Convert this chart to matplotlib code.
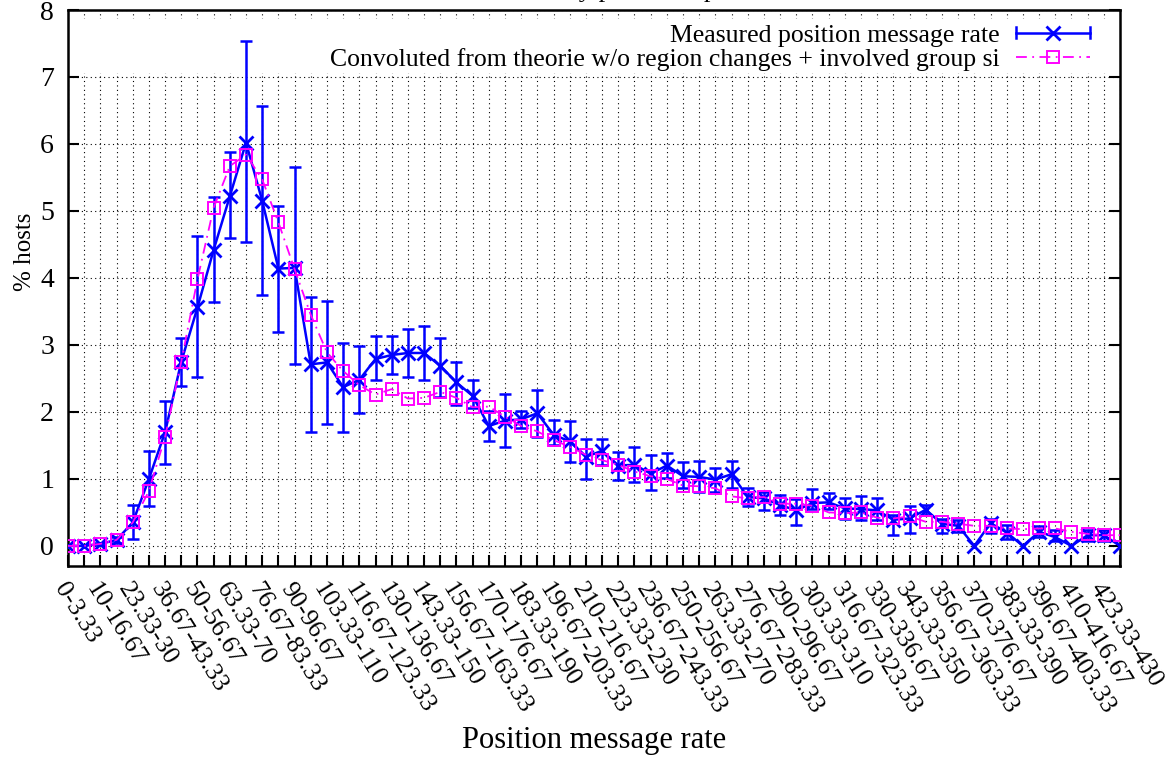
import matplotlib
matplotlib.use("Agg")
import matplotlib.pyplot as plt
from matplotlib.lines import Line2D
from matplotlib.legend_handler import HandlerBase
import numpy as np

plt.rcParams['font.family'] = ['Liberation Serif', 'DejaVu Serif']

# message rate bins (6.67 wide), every second one gets a label
tick_labels = ['0-3.33', '10-16.67', '23.33-30', '36.67-43.33', '50-56.67',
               '63.33-70', '76.67-83.33', '90-96.67', '103.33-110', '116.67-123.33',
               '130-136.67', '143.33-150', '156.67-163.33', '170-176.67', '183.33-190',
               '196.67-203.33', '210-216.67', '223.33-230', '236.67-243.33', '250-256.67',
               '263.33-270', '276.67-283.33', '290-296.67', '303.33-310', '316.67-323.33',
               '330-336.67', '343.33-350', '356.67-363.33', '370-376.67', '383.33-390',
               '396.67-403.33', '410-416.67', '423.33-430']

# % hosts per bin, measured
measured = [0.00, 0.00, 0.03, 0.09, 0.35, 1.00, 1.70, 2.75, 3.56, 4.42,
            5.22, 6.02, 5.15, 4.14, 4.15, 2.71, 2.74, 2.37, 2.48, 2.79,
            2.85, 2.88, 2.88, 2.69, 2.44, 2.24, 1.79, 1.87, 1.89, 1.98,
            1.66, 1.56, 1.33, 1.42, 1.20, 1.21, 1.08, 1.20, 1.04, 1.03,
            0.99, 1.07, 0.73, 0.71, 0.61, 0.53, 0.64, 0.65, 0.56, 0.55,
            0.53, 0.39, 0.41, 0.54, 0.33, 0.30, 0.00, 0.34, 0.20, 0.00,
            0.21, 0.13, 0.00, 0.16, 0.16, 0.00]
measured_lo = [0.00, 0.00, 0.01, 0.05, 0.10, 0.60, 1.23, 2.38, 2.52, 3.64,
               4.59, 4.53, 3.74, 3.20, 2.72, 1.70, 1.82, 1.70, 1.99, 2.47,
               2.57, 2.52, 2.47, 2.23, 2.10, 2.06, 1.57, 1.48, 1.76, 1.63,
               1.50, 1.25, 1.00, 1.21, 0.98, 0.95, 0.84, 1.01, 0.86, 0.81,
               0.81, 0.86, 0.59, 0.54, 0.46, 0.31, 0.55, 0.55, 0.40, 0.38,
               0.38, 0.16, 0.20, 0.46, 0.19, 0.21, 0.00, 0.20, 0.11, 0.00,
               0.13, 0.08, 0.00, 0.08, 0.08, 0.00]
measured_hi = [0.00, 0.00, 0.05, 0.13, 0.61, 1.42, 2.17, 3.11, 4.62, 5.21,
               5.88, 7.53, 6.57, 5.08, 5.65, 3.71, 3.65, 3.03, 2.99, 3.13,
               3.13, 3.24, 3.28, 3.10, 2.75, 2.47, 2.02, 2.27, 2.02, 2.32,
               1.88, 1.87, 1.59, 1.59, 1.40, 1.48, 1.35, 1.39, 1.25, 1.26,
               1.16, 1.27, 0.86, 0.80, 0.76, 0.70, 0.85, 0.79, 0.71, 0.74,
               0.72, 0.46, 0.59, 0.61, 0.40, 0.39, 0.00, 0.40, 0.31, 0.00,
               0.30, 0.24, 0.00, 0.24, 0.24, 0.00]

# convolution of the theoretical distribution
convoluted = [0.00, 0.00, 0.03, 0.09, 0.35, 0.82, 1.63, 2.75, 3.98, 5.05,
              5.67, 5.84, 5.47, 4.83, 4.13, 3.45, 2.89, 2.61, 2.40, 2.26,
              2.34, 2.20, 2.21, 2.30, 2.21, 2.07, 2.08, 1.93, 1.79, 1.71,
              1.58, 1.48, 1.36, 1.28, 1.21, 1.11, 1.04, 1.00, 0.90, 0.89,
              0.86, 0.74, 0.71, 0.73, 0.63, 0.63, 0.60, 0.50, 0.49, 0.50,
              0.42, 0.41, 0.44, 0.36, 0.36, 0.33, 0.30, 0.30, 0.26, 0.25,
              0.26, 0.26, 0.21, 0.18, 0.16, 0.16]

BLUE = '#0000ff'
MAGENTA = '#ff00ff'


class HandlerBarLine(HandlerBase):
    # gnuplot style key sample: line with caps at both ends, marker in the middle
    def create_artists(self, legend, orig_handle, xdescent, ydescent,
                       width, height, fontsize, trans):
        y = (height - ydescent) / 2
        x0, x1 = -xdescent, width - xdescent
        c = 0.3 * height
        arts = [Line2D([x0, x1], [y, y], lw=1.8),
                Line2D([x0, x0], [y - c, y + c], lw=1.8),
                Line2D([x1, x1], [y - c, y + c], lw=1.8),
                Line2D([(x0 + x1) / 2], [y], marker='x', ms=10, mew=2, ls='none')]
        for a in arts:
            a.set_color(BLUE)
            a.set_transform(trans)
        return arts


x = np.arange(len(measured))
m = np.array(measured)
lo = np.array(measured_lo)
hi = np.array(measured_hi)
has_err = (hi - lo) > 0

fig = plt.figure(figsize=(11.72, 7.66), dpi=100)
ax = fig.add_axes([68 / 1172, 200 / 766, 1052 / 1172, 556 / 766])

ax.errorbar(x[has_err], m[has_err], yerr=[m[has_err] - lo[has_err], hi[has_err] - m[has_err]],
            fmt='none', ecolor=BLUE, elinewidth=1.8, capsize=4.5, capthick=1.8, zorder=3)
l1, = ax.plot(x, m, color=BLUE, lw=1.8, marker='x', ms=10, mew=2, zorder=4,
              label='Measured position message rate')
l2, = ax.plot(x, convoluted, color=MAGENTA, lw=1.3, ls=(0, (6, 3, 1, 3)),
              marker='s', ms=9, mew=1.4, mfc='none', zorder=5,
              label='Convoluted from theorie w/o region changes + involved group si')

ax.set_xlim(0, len(measured) - 1)
ax.set_ylim(-0.3, 8)

ax.set_xticks(x)
labels = [''] * len(x)
for i, t in enumerate(tick_labels):
    labels[2 * i] = t
ax.set_xticklabels(labels, fontsize=18.5)
plt.setp(ax.get_xticklabels(), rotation=-58, ha='left', va='top', rotation_mode='anchor')
ax.set_yticks(range(0, 9))
ax.tick_params(axis='y', labelsize=20, pad=10)
ax.tick_params(axis='x', pad=9)
ax.tick_params(direction='in', length=8, width=1.5, right=True, top=False)

ax.grid(True, color='black', lw=0.8, ls=(0, (1, 3)), zorder=0)
ax.set_axisbelow(True)
for s in ax.spines.values():
    s.set_linewidth(1.8)

# opaque key background band
ax.axhspan(7.06, 7.86, color='white', zorder=1, lw=0)

ax.set_xlabel('Position message rate', fontsize=22)
ax.xaxis.set_label_coords(0.5, -0.287)
ax.set_ylabel('% hosts', fontsize=18)
ax.yaxis.set_label_coords(-0.030, 0.565)

ax.set_title('Host distribution by position update rate', fontsize=19, pad=9)

ax.legend(handles=[l1, l2], loc='upper right', bbox_to_anchor=(0.9715, 0.975),
          frameon=False, markerfirst=False, fontsize=18.5, handlelength=2.9,
          handletextpad=0.6, labelspacing=0.04, borderpad=0, borderaxespad=0,
          handler_map={l1: HandlerBarLine()})

fig.savefig('out.png', dpi=100)
